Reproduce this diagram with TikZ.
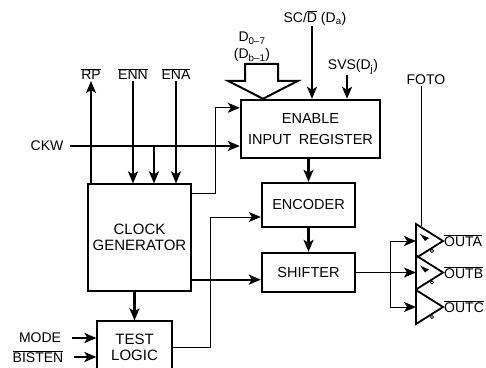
\documentclass[tikz,border=0pt]{standalone}
\usepackage{fontspec}
\setmainfont{Liberation Sans}
\usetikzlibrary{arrows.meta,calc}
\newcommand\ovl[1]{$\overline{\mbox{#1}}$}
\begin{document}
\begin{tikzpicture}[x=1pt,y=-1pt,
  font=\fontsize{14}{16}\selectfont,
  box/.style={draw,line width=2.4pt,inner sep=0pt,align=center},
  thinbox/.style={draw,line width=1.2pt,inner sep=0pt,align=center},
  arr/.style={line width=2.2pt,-{Stealth[length=12pt,width=10pt,inset=3pt]}},
  tarr/.style={line width=1pt,-{Stealth[length=12pt,width=10pt,inset=3pt]}},
  tline/.style={line width=1pt},
  buf/.style={line width=1.8pt,line join=miter},
  lbl/.style={inner sep=1pt}]
\clip (0,0) rectangle (486,367);
% boxes
\node[box,minimum width=139pt,minimum height=58pt,font=\fontsize{14.5}{21}\selectfont] (enable) at (310.5,129) {ENABLE\\INPUT\enspace REGISTER};
\node[box,minimum width=93pt,minimum height=44pt,font=\fontsize{14.5}{16}\selectfont] (encoder) at (308.5,205) {ENCODER};
\node[box,minimum width=93pt,minimum height=39pt,font=\fontsize{14.5}{16}\selectfont] (shifter) at (308.5,272.5) {SHIFTER};
\node[thinbox,minimum width=103pt,minimum height=107pt,font=\fontsize{15}{16}\selectfont] (clock) at (139.5,237.5) {CLOCK\\GENERATOR};
\node[thinbox,minimum width=75pt,minimum height=52pt,font=\fontsize{15}{16}\selectfont] (test) at (134.5,347) {TEST\\LOGIC};
% labels
\node[lbl] (rp) at (91,74) {\ovl{RP}};
\node[lbl] (enn) at (133,74) {\ovl{ENN}};
\node[lbl] (ena) at (176,74) {\ovl{ENA}};
\node[lbl] (ckw) at (47,146) {CKW};
\node[lbl] (sc) at (315,18) {SC/\ovl{D} (D\textsubscript{a})};
\node[lbl,align=center,font=\fontsize{14}{17}\selectfont] (dbus) at (252,47) {D\textsubscript{0–7}\\(D\textsubscript{b–1})};
\node[lbl] (svs) at (353,67) {SVS(D\textsubscript{j})};
\node[lbl] (foto) at (426,80) {FOTO};
\node[lbl] (mode) at (40,338) {MODE};
\node[lbl] (bisten) at (38,357) {\ovl{BISTEN}};
% inputs to clock generator
\draw[arr] (clock.north -| rp) -- (rp.south);
\draw[arr] (enn.south) -- (enn.south |- clock.north);
\draw[arr] (ena.south) -- (ena.south |- clock.north);
\coordinate (ckwstart) at ($(ckw.east)+(5,0)$);
\draw[arr] (ckwstart) -- (ckwstart -| enable.west);
\coordinate (tap) at (154,146);
\draw[arr] (tap) -- (tap |- clock.north);
% clock to register / shifter / test
\draw[tarr] ($(clock.north east)+(0,10)$) -- ++(24,0) |- ($(enable.north west)+(0,9)$);
\coordinate (cs) at ($(clock.south east)+(0,-12)$);
\draw[arr] (cs) -- (cs -| shifter.west);
\draw[arr] (test.north |- clock.south) -- (test.north);
\coordinate (ej) at ($(encoder.west)+(-50,12)$);
\draw[tarr] (test.east) -| (ej) -- (ej -| encoder.west);
% mode / bisten
\coordinate (m1) at ($(mode.east)+(10,0)$);
\draw[arr] (m1) -- (m1 -| test.west);
\coordinate (m2) at ($(bisten.east)+(10,0)$);
\draw[arr] (m2) -- (m2 -| test.west);
% register chain
\draw[arr] (encoder.north |- enable.south) -- (encoder.north);
\draw[arr] (encoder.south) -- (shifter.north);
% data bus arrow
\draw[line width=2pt,line join=miter] ($(enable.north)+(-47.5,0)$) -- ++(35,-18) -- ++(-20,0) -- ++(0,-17) -- ++(-33,0) -- ++(0,17) -- ++(-17,0) -- cycle;
% sc and svs
\coordinate (scx) at ($(sc.south)+(-3,0)$);
\draw[arr] (scx) -- (scx |- enable.north);
\coordinate (svx) at ($(svs.south)+(-6,0)$);
\draw[arr] (svx) -- (svx |- enable.north);
% buffers
\coordinate (b1) at (416,241);
\coordinate (b2) at (416,272.5);
\coordinate (b3) at (416,307);
\foreach \b in {b1,b2,b3}{
  \draw[buf] ($(\b)+(0,-17)$) -- ($(\b)+(27,0)$) -- ($(\b)+(0,17)$) -- cycle;
  \draw[line width=0.6pt] ($(\b)+(16,10)$) circle[radius=1.6pt];
}
\foreach \b in {b1,b2}{
  \fill ($(\b)+(4,-7)$) -- ++(9,4) -- ++(-4,3) -- cycle;
}
\coordinate (fx) at ($(foto.south)+(-5,0)$);
\draw[tline] (fx) -- ($(b1)+(5,-15)$ -| fx);
\coordinate (bus) at ($(b1)+(-26,0)$);
\draw[tline] (bus) -- (bus |- b3);
\draw[tarr] (bus) -- (b1);
\draw[tarr] (bus |- b3) -- (b3);
\draw[tarr] (shifter.east) -- (b2);
\node[lbl,anchor=west] (oa) at ($(b1)+(27,0)$) {\ovl{OUTA}};
\node[lbl,anchor=west] (ob) at ($(b2)+(27,0)$) {\ovl{OUTB}};
\node[lbl,anchor=west] (oc) at ($(b3)+(27,0)$) {\ovl{OUTC}};
\end{tikzpicture}
\end{document}
